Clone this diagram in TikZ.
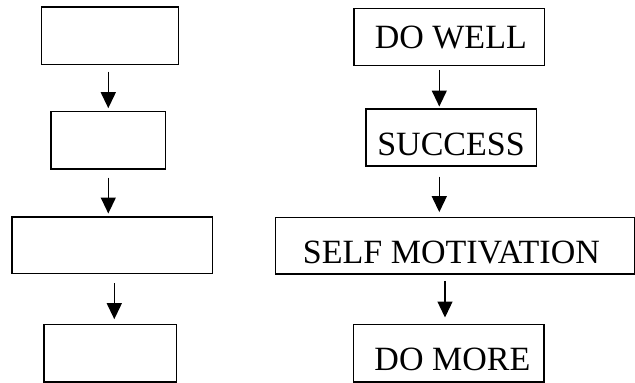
\documentclass[tikz,border=0pt]{standalone}
\usepackage{fontspec}
\setmainfont{Liberation Serif}
\usetikzlibrary{arrows.meta}
\begin{document}
\begin{tikzpicture}[x=1pt,y=-1pt,
  box/.style={draw=black,line width=1.6pt,rectangle,inner sep=2pt,
    font=\fontsize{34}{40}\selectfont,text depth=0pt},
  arr/.style={line width=1.3pt,-{Triangle[length=16pt,width=15pt]}}]
\useasboundingbox (0,0) rectangle (635,383);
% left column
\node[box,minimum width=137pt,minimum height=57.3pt] (l1) at (109.8,35.7) {};
\node[box,minimum width=114.7pt,minimum height=57.4pt] (l2) at (108.3,140) {};
\node[box,minimum width=200.8pt,minimum height=56.6pt] (l3) at (112.1,245) {};
\node[box,minimum width=132.6pt,minimum height=57.4pt] (l4) at (110,353) {};
% right column
\node[box,minimum width=190.3pt,minimum height=57pt] (r1) at (449.2,36.8) {\hspace*{3.2pt}DO WELL};
\node[box,minimum width=170.6pt,minimum height=57pt,text height=36.4pt] (r2) at (451,137.5) {SUCCESS};
\node[box,minimum width=359pt,minimum height=56.7pt,text height=35.6pt] (r3) at (454.8,245.7) {SELF MOTIVATION\hspace*{6.8pt}};
\node[box,minimum width=190.7pt,minimum height=57.4pt,text height=34pt] (r4) at (448.7,353) {\hspace*{7.4pt}DO MORE};
% arrow columns
\coordinate (ca) at (108.3,0);
\coordinate (cb) at (114.3,0);
\coordinate (cc) at (439.3,0);
\coordinate (cd) at (445,0);
\draw[arr] ([yshift=-6.4pt]l1.south -| ca) -- ([yshift=2.3pt]l2.north -| ca);
\draw[arr] ([yshift=-8pt]l2.south -| ca) -- ([yshift=2.4pt]l3.north -| ca);
\draw[arr] ([yshift=-9pt]l3.south -| cb) -- ([yshift=4.3pt]l4.north -| cb);
\draw[arr] ([yshift=-3.7pt]r1.south -| cc) -- ([yshift=1.7pt]r2.north -| cc);
\draw[arr] ([yshift=-9.7pt]r2.south -| cc) -- ([yshift=4.4pt]r3.north -| cc);
\draw[arr] ([yshift=-6pt]r3.south -| cd) -- ([yshift=6pt]r4.north -| cd);
\end{tikzpicture}
\end{document}
